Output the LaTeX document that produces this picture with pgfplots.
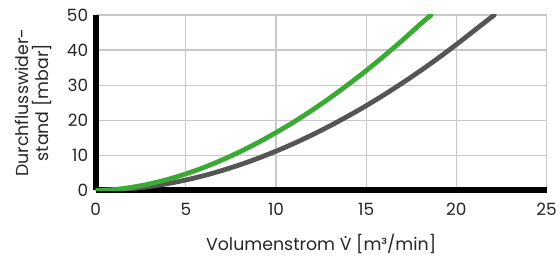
\documentclass[border=0pt]{standalone}
\usepackage{fontspec}
\setmainfont{Poppins}
\usepackage{pgfplots}
\pgfplotsset{compat=1.18}
\definecolor{cgreen}{RGB}{58,170,53}
\definecolor{cgray}{RGB}{85,85,85}
\definecolor{cgrid}{RGB}{200,200,200}
\newcommand\Vdot{\setbox0\hbox{V}\leavevmode\rlap{\hbox to\wd0{\hfil\raisebox{0.72em}{.}\hfil}}V}
\begin{document}
\begin{tikzpicture}
\begin{axis}[
  scale only axis=true,
  width=452bp, height=176bp,
  xmin=0, xmax=25, ymin=0, ymax=50,
  xtick={0,5,...,25}, ytick={0,10,...,50},
  axis x line=bottom, axis y line=left,
  axis line style={line width=6bp, black, -},
  tick style={draw=none},
  grid=major,
  major grid style={cgrid, line width=1.2bp},
  tick label style={font=\fontsize{17}{18}\selectfont, text=black!85},
  /pgf/number format/assume math mode=true,
  xticklabel style={yshift=-7bp},
  yticklabel style={xshift=-2bp},
  xlabel={Volumenstrom \Vdot{} [m³/min]},
  ylabel={Durchflusswider-\\stand [mbar]},
  label style={font=\fontsize{17.5}{20}\selectfont, text=black!85},
  ylabel style={align=center, yshift=8bp},
  xlabel style={yshift=-12bp},
]
\addplot[cgray, line width=4.8bp, line cap=round, smooth] coordinates {
(0,0) (1,0.14) (2,0.53) (3,1.14) (4,1.96) (5,3.0) (6,4.23) (7,5.68) (8,7.33) (9,9.17) (10,11.2) (11,13.42) (12,15.83) (13,18.43) (14,21.21) (15,24.15) (16,27.28) (17,30.6) (18,34.08) (19,37.73) (20,41.58) (21,45.59) (22.1,50)
};
\addplot[cgreen, line width=4.8bp, line cap=round, smooth] coordinates {
(0,0) (1,0.26) (2,0.91) (3,1.89) (4,3.17) (5,4.74) (6,6.56) (7,8.68) (8,11.04) (9,13.65) (10,16.5) (11,19.56) (12,22.88) (13,26.41) (14,30.18) (15,34.15) (16,38.36) (17,42.76) (18,47.38) (18.6,50)
};
\end{axis}
\path[use as bounding box] ([xshift=-96bp,yshift=-64bp]current axis.south west) rectangle ([xshift=464bp,yshift=191bp]current axis.south west);
\end{tikzpicture}
\end{document}
